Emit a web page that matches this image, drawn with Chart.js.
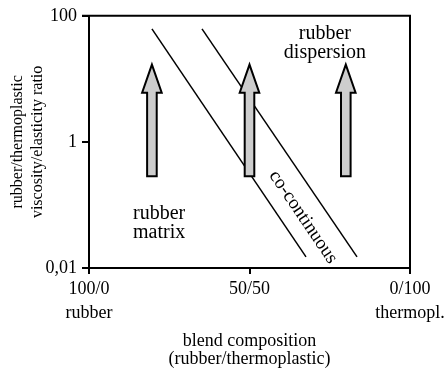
<!DOCTYPE html>
<html>
<head>
<meta charset="utf-8">
<script src="https://cdn.jsdelivr.net/npm/chart.js@4/dist/chart.umd.min.js"></script>
<style>
  html,body{margin:0;padding:0;background:#fff}
  #wrap{width:446px;height:368px}
</style>
</head>
<body>
<div id="wrap"><canvas id="c" width="446" height="368"></canvas></div>
<script>
// phase boundaries (composition %, ratio)
const lowerX = [19.6, 67.6];
const lowerY = [62, 0.015];
const upperX = [35.2, 83.5];
const upperY = [62, 0.015];

// arrows: position on composition axis, base and tip ratio
const arrowX = [19.6, 50, 80];
const arrowBase = [0.285, 0.285, 0.285];
const arrowTip = [16.8, 16.8, 16.8];

const xTickValues = [0, 50, 100];
const xTickLabels = [['100/0', 'rubber'], ['50/50'], ['0/100', 'thermopl.']];
const yTickValues = [0.01, 1, 100];
const yTickLabels = ['0,01', '1', '100'];

const SERIF = '"Liberation Serif", "Times New Roman", serif';

const toPts = (xs, ys) => xs.map((x, i) => ({x, y: ys[i]}));

// frame: top and right border
const framePlugin = {
  id: 'frame',
  beforeDatasetsDraw(chart){
    const {ctx, chartArea:a} = chart;
    ctx.save();
    ctx.strokeStyle = '#000';
    ctx.lineWidth = 2;
    ctx.beginPath();
    ctx.moveTo(a.left - 7, a.top);
    ctx.lineTo(a.right, a.top);
    ctx.lineTo(a.right, a.bottom);
    ctx.stroke();
    ctx.restore();
  }
};

const arrowPlugin = {
  id: 'arrows',
  afterDatasetsDraw(chart){
    const {ctx, scales:{x, y}} = chart;
    ctx.save();
    ctx.fillStyle = '#cdcdcd';
    ctx.strokeStyle = '#000';
    ctx.lineWidth = 2;
    ctx.lineJoin = 'miter';
    arrowX.forEach((v, i) => {
      const px = x.getPixelForValue(v);
      const yb = y.getPixelForValue(arrowBase[i]);
      const yt = y.getPixelForValue(arrowTip[i]);
      const hh = 28, sw = 4.8, hw = 9.8;
      ctx.beginPath();
      ctx.moveTo(px - sw, yb);
      ctx.lineTo(px - sw, yt + hh);
      ctx.lineTo(px - hw, yt + hh);
      ctx.lineTo(px, yt);
      ctx.lineTo(px + hw, yt + hh);
      ctx.lineTo(px + sw, yt + hh);
      ctx.lineTo(px + sw, yb);
      ctx.closePath();
      ctx.fill();
      ctx.stroke();
    });
    ctx.restore();
  }
};

const textPlugin = {
  id: 'regionText',
  afterDatasetsDraw(chart){
    const {ctx, scales:{x, y}} = chart;
    ctx.save();
    ctx.fillStyle = '#000';
    ctx.font = '20px ' + SERIF;
    ctx.textBaseline = 'middle';
    ctx.textAlign = 'center';
    ctx.fillText('rubber', x.getPixelForValue(73.5), y.getPixelForValue(52));
    ctx.fillText('dispersion', x.getPixelForValue(73.5), y.getPixelForValue(25.9));
    ctx.textAlign = 'left';
    ctx.fillText('rubber', x.getPixelForValue(13.7), y.getPixelForValue(0.0714));
    ctx.fillText('matrix', x.getPixelForValue(13.7), y.getPixelForValue(0.0357));
    // rotated label between the boundaries
    const ang = Math.atan2(
      y.getPixelForValue(lowerY[1]) - y.getPixelForValue(lowerY[0]),
      x.getPixelForValue(lowerX[1]) - x.getPixelForValue(lowerX[0]));
    ctx.translate(x.getPixelForValue(66.7), y.getPixelForValue(0.064));
    ctx.rotate(ang);
    ctx.textAlign = 'center';
    ctx.font = '19px ' + SERIF;
    ctx.fillText('co-continuous', 0, 0);
    ctx.restore();
  }
};

const lineStyle = {showLine:true, borderColor:'#000', borderWidth:1.5, pointRadius:0, fill:false};

new Chart(document.getElementById('c'), {
  type: 'scatter',
  data: {
    datasets: [
      {...lineStyle, data: toPts(lowerX, lowerY)},
      {...lineStyle, data: toPts(upperX, upperY)}
    ]
  },
  plugins: [framePlugin, arrowPlugin, textPlugin],
  options: {
    responsive: false,
    animation: false,
    events: [],
    layout: {padding: {top: 15, right: 36, left: 0, bottom: 0}},
    plugins: {legend: {display:false}, tooltip: {enabled:false}},
    scales: {
      x: {
        type: 'linear', min: 0, max: 100,
        afterFit: s => { s.height = 100; s.paddingRight = 0; s.paddingLeft = 0; },
        afterBuildTicks: s => { s.ticks = xTickValues.map(v => ({value: v})); },
        border: {color:'#000', width:2},
        grid: {drawOnChartArea:false, drawTicks:true, tickLength:6, color:'#000', lineWidth:2},
        ticks: {
          color:'#000', padding:4, maxRotation:0, autoSkip:false,
          font: {family: SERIF, size: 18, lineHeight: 1.3},
          callback: (v) => xTickLabels[xTickValues.indexOf(v)]
        },
        title: {
          display:true, color:'#000',
          text: ['blend composition', '(rubber/thermoplastic)'],
          font: {family: SERIF, size: 18, lineHeight: 1.0},
          padding: {top: 0, bottom: 0}
        }
      },
      y: {
        type: 'logarithmic', min: 0.01, max: 100,
        afterFit: s => { s.width = 89; },
        afterBuildTicks: s => { s.ticks = yTickValues.map(v => ({value: v})); },
        border: {color:'#000', width:2},
        grid: {drawOnChartArea:false, drawTicks:true, tickLength:7, color:'#000', lineWidth:2},
        ticks: {
          color:'#000', padding:5, autoSkip:false,
          font: {family: SERIF, size: 18},
          callback: (v) => yTickLabels[yTickValues.indexOf(v)]
        },
        title: {
          display:true, color:'#000',
          text: ['rubber/thermoplastic', 'viscosity/elasticity ratio'],
          font: {family: SERIF, size: 16, lineHeight: 1.3},
          padding: {top: 7, bottom: 0}
        }
      }
    }
  }
});
</script>
</body>
</html>
